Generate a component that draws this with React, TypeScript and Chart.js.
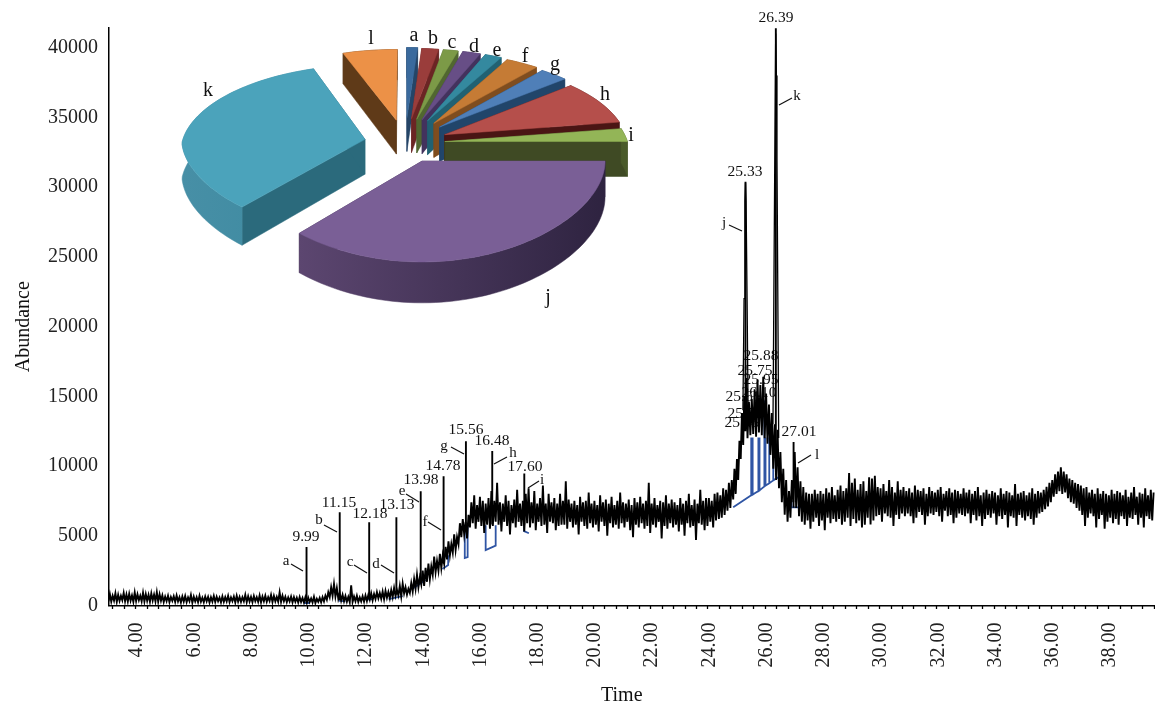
import React, { useEffect, useRef } from "react";
import { Chart, registerables } from "chart.js";

Chart.register(...registerables);

const spans = [[3.07,5],[5,8],[8,10],[10,10.6],[10.6,11.2],[11.2,12.2],[12.2,13],[13,13.6],[13.6,14.2],[14.2,14.8],[14.8,15.3],[15.3,15.7],[15.7,16.5],[16.5,17.5],[17.5,19],[19,24],[24,24.9],[24.9,25.25],[25.25,25.4],[25.4,25.6],[25.6,26],[26,26.3],[26.3,26.5],[26.5,26.8],[26.8,27],[27,27.3],[27.3,27.6],[27.6,30],[30,33],[33,35.8],[35.8,37],[37,39.64]];
const trace = [
[300,820,280,700,350,880,260,760,330,690,380,900,300,780,290,840,350,720,270,930,320,800,380,700,300,910,290,820,340,760,270,870,360,780,300,950,280,800,340,720],
[250,640,310,700,240,610,330,660,260,720,300,590,220,650,280,680,240,580,310,760,200,630,290,600,240,700,270,560,230,640,300,610,210,590,280,680,250,620,310,570,230,650,260,600,290,690,240,580,310,640,220,700,280,610,260,590,300,760,240,660],
[280,610,240,680,310,590,260,720,230,640,300,700,270,600,320,760,250,690,300,620,280,950,260,700,310,620,250,580,290,640,230,600,270,560,220,610,260,540,210,590],
[200,560,250,500,210,620,180,480,260,540,230,600],
[300,700,420,950,600,1300,700,1540,650,1250,500,900],
[350,760,300,680,280,620,240,1450,260,640,300,700,260,580,300,660,280,720,320,760],
[420,880,380,820,460,960,520,900,480,1000,440,1050,560,960,520,1100],
[600,1250,680,1100,720,1400,640,1560,860,1300,780,1200],
[900,1600,1000,1900,1200,2200,1300,2000,1500,2500,1400,2700],
[1700,3000,1900,2800,2200,3500,2400,3200,2500,3700,2700,3600],
[3000,4200,3300,4600,3600,4400,3800,5100,4000,4900],
[4400,5900,4900,6200,5100,6000,4800,6500],
[5600,7400,5900,7900,5500,7200,6000,7800,5700,7500,5200,7300,5800,7700,5500,8200],
[5700,7500,6000,8800,5800,7400,5300,7300,6000,7900,5700,7500,5100,7200,5900,7600,5600,8300,6000,7300],
[5700,7500,5300,8000,5900,8400,5600,7400,5900,8200,5400,7300,6000,7700,5700,8600,5800,7300,5200,8000,6000,7400,5900,7700,5400,7300,5700,8000,5800,7500],
[5800,8900,5500,7600,6000,7300,5600,7500,5800,7200,5100,7800,6000,7400,5700,7500,5500,8100,5900,7300,5600,7500,5800,7200,5300,7900,6000,7400,5700,7600,5000,7300,5900,7800,5600,7200,5800,7500,5500,8100,5900,7400,5600,7300,6000,7600,5400,7200,4900,7700,5800,7400,5600,7800,5900,7300,5500,7500,5700,8800,5200,7300,5800,7700,5600,7200,6000,7500,4800,7400,5700,7900,5500,7300,5900,7600,5600,7400,5800,7200,5300,7700,5800,7300,5000,7500,5900,8000,5600,7200,5700,7600,4700,7300,5900,8300,5800,7500,5400,7700],
[5700,7700,6000,7500,5600,8000,6100,8100,6200,7900,6300,8400,6500,8300,6800,8800,7000,9000],
[7600,9800,8000,10500,9000,11800,10500,13800],
[11500,15000,12500,16300],
[12000,14600,12200,14800],
[12300,15500,12100,16200,12400,15800,12200,16400],
[12000,15200,11600,14400,10800,13800],
[9800,13000,9000,12600],
[8400,11000,7400,9800,6500,9000],
[6000,8200,6300,9000],
[7400,11000,7000,9900,6400,8900],
[6000,8500,5800,8100,6100,8000],
[5500,8000,6000,8300,6300,8000,5700,8200,6100,8000,5400,8400,6300,8100,5900,8500,6200,7900,6000,8300,6200,8600,5800,8200,6000,8400,6300,9500,5700,8800,6200,9100,5900,8300,6100,8700,5600,8900,5800,8200,6300,9200,5800,9100,6100,9300,6400,8500],
[6500,8400,6000,8700,6600,8200,6400,9000,6300,8500,5700,8100,6500,8900,6200,8300,6600,8500,6400,8200,6600,8400,6400,8100,5900,8600,6300,8300,6700,8200,6500,8400,5800,8000,6400,8500,6600,8200,6500,8100,6700,8300,6400,8500,6000,8000,6800,8200,6400,8400,6500,8100,5900,8300,6300,8200,6600,8000,6500,8400],
[6400,8100,6600,8300,5900,8000,6500,8200,6100,8500,6400,7900,5700,8100,6200,8300,6500,8000,6300,8200,6600,8100,5800,7900,6400,8400,6200,8000,6500,8200,5600,8100,6400,7900,6300,8700,5700,8000,6500,8100,6300,8200,6100,7900,6400,8100,6200,8400,5800,8000,6300,8200,6600,8100,6700,8300],
[6900,8500,7100,8800,7400,9000,7800,9400,8000,9600,8200,9900,8000,9600,8100,9400,7700,9100,7400,9000,7300,8800,7000,8700],
[6800,8600,6500,8400,5700,8500,6300,8100,6600,8300,6400,8000,5600,8400,6200,8000,6500,8200,5500,8000,6000,7900,6300,8300,5900,8000,6200,8200,5800,8100,6400,7900,6200,8300,5700,7800,6300,8100,6200,8500,6500,7800,5800,8100,6300,8000,5600,8400,6400,7900,6200,8300,6100,8100],
];

// ---------- labelled peaks
const peakLetters = ["a","b","c","d","e","f","g","h","i","j","k","l"];
const peakNames = ["9.99","11.15","12.18","13.13","13.98","14.78","15.56","16.48","17.60","25.33","26.39","27.01"];
const peakTimes = [9.99,11.15,12.18,13.13,13.98,14.78,15.56,16.48,17.6,25.33,26.39,27.01];
const peakTops = [4200,6690,5970,6330,8190,9260,11770,11070,9470,30370,41380,11720];
const peakBases = [300,400,500,800,1700,3000,5500,5800,5800,13000,11000,7000];
const shoulderTimes = [25.24,25.28,25.31,25.33,25.35,25.385,25.42,null,26.29,26.32,26.36,26.385,26.41,26.43,26.46,26.49];
const shoulderValues = [14000,22000,29000,30300,29000,22000,14000,null,13000,22000,34000,41000,38000,32000,22000,12000];

// ---------- integration baselines
const baseTimes = [24.9,25.53,25.53,25.53,25.58,25.58,25.58,25.78,25.78,25.78,25.82,25.82,25.82,25.99,25.99,25.99,26.03,26.03,26.03,26.16,26.16,26.16,26.3,26.3,26.3,26.65,null,26.94,26.94,27.29,null,15.52,15.52,15.62,15.62,null,16.25,16.25,16.6,16.6,null,14.74,14.94,14.94,null,17.59,17.59,17.76,null,13.73,14.15,null,12.86,13.35,null,9.9,10.1,null,11.1,11.35,null,12.1,12.3];
const baseValues = [7043,7900,12050,7900,7950,12050,7950,8200,12050,8200,8250,12050,8250,8540,14700,8540,8600,12050,8600,8760,12050,8760,8970,11100,8970,9400,null,7540,7040,7040,null,5700,3400,3470,5700,null,5750,3970,4290,5750,null,2610,2900,3600,null,6000,5330,5180,null,1250,1820,null,465,680,null,180,180,null,350,300,null,430,450];

// ---------- crowded labels of the 25-26 min cluster
const clusterNames = ["25.45","25.52","25.61","25.75","25.88","25.95","26.10"];

// ---------- axis ticks
const yTicks = [0,5000,10000,15000,20000,25000,30000,35000,40000];

// ---------- pie
const pieLetters = ["a","b","c","d","e","f","g","h","i","j","k","l"];
const pieShares = [1.1,1.7,1.5,1.8,1.7,3.3,2.8,8.6,2.5,36.7,32.8,5.5];

// ---------- styles and layout
const pieTops = ["#3A6A9D","#9A3D3B","#7C9A47","#674E86","#34899F","#C57B35","#4F7FB8","#B54F4B","#93B557","#7A5F96","#4BA3BB","#EC9147"];
const pieRadial = ["#254567","#6B2524","#516730","#43325D","#216172","#7F4D1F","#21456A","#4A1514","#3F4A24","#3A2C4C","#2B6A7C","#5F3A18"];
const pieWallA = ["#254567","#6B2524","#516730","#43325D","#216172","#7F4D1F","#21456A","#4A1514","#4A5A2A","#5C4670","#478FA6","#5F3A18"];
const pieWallB = ["#254567","#6B2524","#516730","#43325D","#216172","#7F4D1F","#21456A","#4A1514","#4A5A2A","#2E2340","#3D8AA0","#5F3A18"];
const pieOffsets = [57,55,55,55,55,53,50,44,40,42,41,52];
const pieDrawOrder = [11,0,1,2,3,4,5,6,7,8,10,9];
const PIE = { cx: 405, cy: 143, tilt: 0.46, persp: 0.00065, depth: 35 };
const pieLabelAt = [[414,36],[433,39],[452,43],[474,47],[497,51],[525,57],[555,65],[605,95],[631,136],[548,298],[208,91],[371,39]];
const SERIF = "'Liberation Serif', serif";

const peakLabelAt = [[306,537],[339,503],[370,514],[397,505],[421,480],[443,466],[466,430],[492,441],[525,467],[745,172],[776,18],[799,432]];
const clusterLabelAt = [[742,423],[745,414],[743,397],[755,371],[761,356],[761,380],[759,393]];
const letterAt = [[286,561],[319,520],[350,562],[376,564],[402,491],[425,522],[444,446],[513,453],[542,480],[724,223],[797,96],[817,455]];
const leaderAt = [[291,564,303,571],[324,525,337,532],[354,565,367,573],[381,565,394,573],[406,494,419,502],[428,522,441,530],[451,447,464,454],[507,457,494,464],[539,481,528,488],[729,225,742,231],[792,98,779,105],[811,455,798,463]];
const MINOR_STEP = 0.4;

function tracePoints() {
  const pts: { x: number; y: number }[] = [];
  trace.forEach((vals, k) => {
    const [a, b] = spans[k];
    vals.forEach((v, i) => pts.push({ x: a + ((b - a) * i) / vals.length, y: v }));
  });
  return pts;
}
function peakPoints() {
  const pts: { x: number; y: number | null }[] = [];
  peakTimes.forEach((t, i) => {
    pts.push({ x: t, y: peakBases[i] }, { x: t, y: peakTops[i] }, { x: t, y: peakBases[i] }, { x: t, y: null });
  });
  return pts;
}
const pairPoints = (xs: (number | null)[], ys: (number | null)[]) =>
  xs.map((x, i) => ({ x: x === null ? xs[i - 1] : x, y: ys[i] }));

const annotations = {
  id: "annotations",
  beforeDatasetsDraw(chart: any) {
    const c = chart.ctx;
    c.save();
    c.fillStyle = "#111";
    c.font = `15.5px ${SERIF}`;
    c.textAlign = "center";
    c.textBaseline = "middle";
    clusterNames.forEach((t, i) => c.fillText(t, clusterLabelAt[i][0], clusterLabelAt[i][1]));
    peakNames.forEach((t, i) => c.fillText(t, peakLabelAt[i][0], peakLabelAt[i][1]));
    c.font = `15px ${SERIF}`;
    peakLetters.forEach((t, i) => c.fillText(t, letterAt[i][0], letterAt[i][1]));
    c.strokeStyle = "#111";
    c.lineWidth = 1.2;
    leaderAt.forEach(([a, b, d, e]) => {
      c.beginPath();
      c.moveTo(a, b);
      c.lineTo(d, e);
      c.stroke();
    });
    c.restore();
  },
  afterDraw(chart: any) {
    const c = chart.ctx;
    const sx = chart.scales.x;
    const bottom = sx.top;
    c.save();
    c.strokeStyle = "#000";
    c.lineWidth = 1.3;
    const first = Math.ceil(sx.min / MINOR_STEP);
    const last = Math.floor(sx.max / MINOR_STEP);
    for (let k = first; k <= last; k++) {
      const px = Math.round(sx.getPixelForValue(k * MINOR_STEP)) + 0.5;
      c.beginPath();
      c.moveTo(px, bottom);
      c.lineTo(px, bottom + 3.5);
      c.stroke();
    }
    c.restore();
  },
};

const pie3d = {
  id: "pie3d",
  beforeDatasetsDraw(chart: any) {
    const c = chart.ctx;
    const arcs = chart.getDatasetMeta(0).data;
    const { cx, cy, tilt, persp, depth } = PIE;
    const project = (X: number, Y: number, z: number) => {
      const s = 1 / (1 + Y * persp);
      const sx = 1 / (1 + Math.max(Y, 0) * persp);
      return [cx + X * sx, cy - Y * tilt * s + z * s];
    };
    c.save();
    pieDrawOrder.forEach((i) => {
      const arc = arcs[i];
      const r = arc.outerRadius;
      const off = arc.options.offset;
      const mid = (arc.startAngle + arc.endAngle) / 2;
      const ox = off * Math.cos(mid);
      const oy = -off * Math.sin(mid);
      const steps = Math.max(4, Math.ceil((arc.endAngle - arc.startAngle) / 0.03));
      const rim: number[][] = [];
      for (let k = 0; k <= steps; k++) {
        const t = arc.startAngle + ((arc.endAngle - arc.startAngle) * k) / steps;
        rim.push([ox + r * Math.cos(t), oy - r * Math.sin(t)]);
      }
      const poly = (pts: number[][], fill: any) => {
        c.beginPath();
        pts.forEach((p, k) => (k ? c.lineTo(p[0], p[1]) : c.moveTo(p[0], p[1])));
        c.closePath();
        c.fillStyle = fill;
        c.fill();
        c.strokeStyle = fill;
        c.lineWidth = 0.5;
        c.stroke();
      };
      const A0 = project(ox, oy, 0);
      const A1 = project(ox, oy, depth);
      const R0 = rim[0];
      const R1 = rim[rim.length - 1];
      poly([A0, A1, project(R0[0], R0[1], depth), project(R0[0], R0[1], 0)], pieRadial[i]);
      poly([A0, A1, project(R1[0], R1[1], depth), project(R1[0], R1[1], 0)], pieRadial[i]);
      const topRim = rim.map((p) => project(p[0], p[1], 0));
      const lowRim = rim.map((p) => project(p[0], p[1], depth));
      const xs = topRim.map((p) => p[0]);
      const g = c.createLinearGradient(Math.min(...xs), 0, Math.max(...xs), 0);
      g.addColorStop(0, pieWallA[i]);
      g.addColorStop(1, pieWallB[i]);
      poly([...topRim, ...lowRim.reverse()], g);
      poly([A0, ...topRim], pieTops[i]);
    });
    c.fillStyle = "#111";
    c.font = `20px ${SERIF}`;
    c.textAlign = "center";
    c.textBaseline = "middle";
    pieLetters.forEach((t, i) => c.fillText(t, pieLabelAt[i][0], pieLabelAt[i][1]));
    c.restore();
    return false;
  },
};

export default function App() {
  const mainRef = useRef<HTMLCanvasElement>(null);
  const pieRef = useRef<HTMLCanvasElement>(null);

  useEffect(() => {
    const main = new Chart(mainRef.current as any, {
      type: "line",
      data: {
        datasets: [
          { label: "Integration baseline", data: pairPoints(baseTimes, baseValues), borderColor: "#2F55A4", borderWidth: 1.8, order: 3 },
          { label: "Total ion current", data: tracePoints(), borderColor: "#000", borderWidth: 1.9, order: 2 },
          { label: "Labelled peaks", data: peakPoints(), borderColor: "#000", borderWidth: 1.9, order: 1 },
          { label: "Peak shoulders", data: pairPoints(shoulderTimes, shoulderValues), borderColor: "#000", borderWidth: 1.3, order: 1 },
        ],
      } as any,
      options: {
        responsive: false,
        animation: false,
        events: [],
        parsing: false,
        spanGaps: false,
        layout: { padding: { top: 28, right: 0, left: 0, bottom: 0 } },
        elements: { point: { radius: 0 }, line: { tension: 0, borderJoinStyle: "miter", capBezierPoints: false } },
        plugins: { legend: { display: false }, tooltip: { enabled: false }, title: { display: false } },
        scales: {
          x: {
            type: "linear",
            min: 3.07,
            max: 39.64,
            afterFit: (s: any) => { s.height = 97.5; },
            grid: { display: false, drawTicks: true, tickLength: 7, tickColor: "#000", tickWidth: 1.3, drawOnChartArea: false },
            border: { display: true, color: "#000", width: 1.5 },
            ticks: {
              stepSize: 2,
              includeBounds: false,
              autoSkip: false,
              minRotation: 90,
              maxRotation: 90,
              padding: 10,
              labelOffset: 2,
              color: "#222",
              font: { family: SERIF, size: 20 },
              callback: (v: any) => Number(v).toFixed(2),
            },
            title: { display: true, text: "Time    ", color: "#111", font: { family: SERIF, size: 20, lineHeight: 1 }, padding: { top: 0, bottom: -3 } },
          },
          y: {
            type: "linear",
            min: 0,
            max: 41400,
            afterBuildTicks: (s: any) => { s.ticks = yTicks.map((value) => ({ value })); },
            afterFit: (s: any) => { s.width = 108.5; },
            grid: { display: false, drawTicks: true, tickLength: 2, tickColor: "#000", tickWidth: 1.3, drawOnChartArea: false },
            border: { display: true, color: "#000", width: 1.5 },
            ticks: { autoSkip: false, padding: 8.5, color: "#222", font: { family: SERIF, size: 20 }, callback: (v: any) => String(v) },
            title: { display: true, text: "Abundance    ", color: "#111", font: { family: SERIF, size: 20, lineHeight: 1 }, padding: { top: 14, bottom: 0 } },
          },
        },
      } as any,
      plugins: [annotations],
    });

    const pie = new Chart(pieRef.current as any, {
      type: "pie",
      data: {
        labels: pieLetters,
        datasets: [{ data: pieShares, backgroundColor: pieTops, offset: pieOffsets, borderWidth: 0 }],
      },
      options: {
        responsive: false,
        animation: false,
        events: [],
        radius: 183,
        plugins: { legend: { display: false }, tooltip: { enabled: false } },
      } as any,
      plugins: [pie3d],
    });

    return () => {
      main.destroy();
      pie.destroy();
    };
  }, []);

  return (
    <div style={{ position: "fixed", left: 0, top: 0, width: 1155, height: 703, background: "#fff", overflow: "hidden" }}>
      <canvas ref={mainRef} width={1155} height={703} style={{ position: "absolute", left: 0, top: 0, display: "block" }} />
      <canvas ref={pieRef} width={1155} height={703} style={{ position: "absolute", left: 0, top: 0, display: "block" }} />
    </div>
  );
}
